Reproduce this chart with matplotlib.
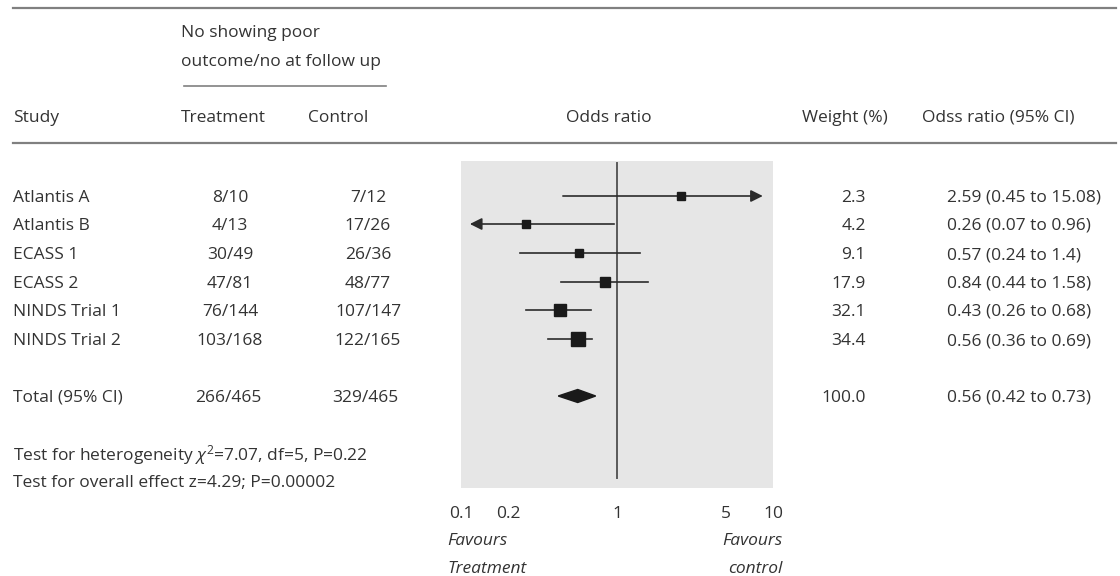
import numpy as np
import matplotlib
matplotlib.use('Agg')
import matplotlib.pyplot as plt

plt.rcParams['font.family'] = ['Open Sans', 'DejaVu Sans']
plt.rcParams['mathtext.fontset'] = 'custom'
plt.rcParams['mathtext.rm'] = 'Open Sans'
plt.rcParams['mathtext.it'] = 'Open Sans:italic'

# データ
studies = ['Atlantis A', 'Atlantis B', 'ECASS 1', 'ECASS 2', 'NINDS Trial 1', 'NINDS Trial 2']
treatment = ['8/10', '4/13', '30/49', '47/81', '76/144', '103/168']
control = ['7/12', '17/26', '26/36', '48/77', '107/147', '122/165']
weights = [2.3, 4.2, 9.1, 17.9, 32.1, 34.4]
odds = [2.59, 0.26, 0.57, 0.84, 0.43, 0.56]
ci_low = [0.45, 0.07, 0.24, 0.44, 0.26, 0.36]
ci_high = [15.08, 0.96, 1.4, 1.58, 0.68, 0.69]

total_treat = '266/465'
total_ctrl = '329/465'
total_or = 0.56
total_low = 0.42
total_high = 0.73

het_text = r'Test for heterogeneity $\chi^2$=7.07, df=5, P=0.22'
eff_text = 'Test for overall effect z=4.29; P=0.00002'

xticks = [0.1, 0.2, 1, 5, 10]
xticklabels = ['0.1', '0.2', '1', '5', '10']

# レイアウト (ピクセル)
W, H = 1120, 576
row_y = [196, 224, 253, 282, 310, 339]
total_y = 396
panel = (461, 773, 161, 488)  # x0, x1, y_top, y_bottom
FS = 12.5
TXT = '#333333'
DY = 2  # 文字の縦位置補正

fig = plt.figure(figsize=(W / 100, H / 100), dpi=100)
bg = fig.add_axes([0, 0, 1, 1])
bg.set_xlim(0, W)
bg.set_ylim(H, 0)
bg.axis('off')


def txt(x, y, s, **kw):
    bg.text(x, y + DY, s, fontsize=FS, va='center', color=TXT, **kw)


# 罫線
bg.plot([13, 1116], [8, 8], color='#808080', lw=1.6)
bg.plot([13, 1116], [143, 143], color='#808080', lw=1.6)
bg.plot([184, 386], [86, 86], color='#808080', lw=1.2)

# 見出し
txt(181, 31, 'No showing poor')
txt(181, 60, 'outcome/no at follow up')
hy = 116
txt(13, hy, 'Study')
txt(181, hy, 'Treatment')
txt(308, hy, 'Control')
txt(609, hy, 'Odds ratio', ha='center')
txt(802, hy, 'Weight (%)')
txt(922, hy, 'Odss ratio (95% CI)')

# 各試験の行
for i, y in enumerate(row_y):
    txt(13, y, studies[i])
    txt(230, y, treatment[i], ha='center')
    txt(368, y, control[i], ha='center')
    txt(866, y, f'{weights[i]:.1f}', ha='right')
    txt(947, y, f'{odds[i]:g} ({ci_low[i]:g} to {ci_high[i]:g})')

txt(13, total_y, 'Total (95% CI)')
txt(228, total_y, total_treat, ha='center')
txt(365, total_y, total_ctrl, ha='center')
txt(866, total_y, f'{sum(weights):.1f}', ha='right')
txt(947, total_y, f'{total_or:g} ({total_low:g} to {total_high:g})')

txt(13, 453, het_text)
txt(13, 481, eff_text)

txt(447, 539, 'Favours', style='italic')
txt(447, 567, 'Treatment', style='italic')
txt(783, 539, 'Favours', ha='right', style='italic')
txt(783, 567, 'control', ha='right', style='italic')

# フォレストプロット
x0, x1, yt, yb = panel
ax = fig.add_axes([x0 / W, 1 - yb / H, (x1 - x0) / W, (yb - yt) / H])
ax.set_xscale('log')
ax.set_xlim(0.1, 10)
ax.set_ylim(yb, yt)
ax.set_facecolor('#e6e6e6')
for s in ax.spines.values():
    s.set_visible(False)
ax.set_yticks([])
ax.minorticks_off()
ax.set_xticks(xticks)
ax.set_xticklabels(xticklabels, fontsize=FS, color=TXT)
ax.tick_params(axis='x', length=0, pad=13)

ax.plot([1, 1], [yt + 2, yb - 10], color='#5a5a5a', lw=1.4, zorder=2)

lo_lim, hi_lim = 0.114, 8.6
LC = '#2b2b2b'
for i, y in enumerate(row_y):
    lo, hi = ci_low[i], ci_high[i]
    if hi > 10:
        ax.annotate('', xy=(hi_lim, y), xytext=(lo, y),
                    arrowprops=dict(arrowstyle='-|>', mutation_scale=18, lw=1.2,
                                    color=LC, shrinkA=0, shrinkB=0), zorder=3)
    elif lo < 0.1:
        ax.annotate('', xy=(lo_lim, y), xytext=(hi, y),
                    arrowprops=dict(arrowstyle='-|>', mutation_scale=18, lw=1.2,
                                    color=LC, shrinkA=0, shrinkB=0), zorder=3)
    else:
        ax.plot([lo, hi], [y, y], color=LC, lw=1.2, zorder=3)
    side = max(8.0, 2.25 * np.sqrt(weights[i]))
    ax.plot(odds[i], y, marker='s', ms=side * 0.72, color='#1a1a1a', mec='#1a1a1a', zorder=4)

# 合計のダイヤモンド
ax.fill([total_low, total_or, total_high, total_or],
        [total_y, total_y - 6.5, total_y, total_y + 6.5], color='#1a1a1a', zorder=4)

fig.savefig('out.png', dpi=100)
